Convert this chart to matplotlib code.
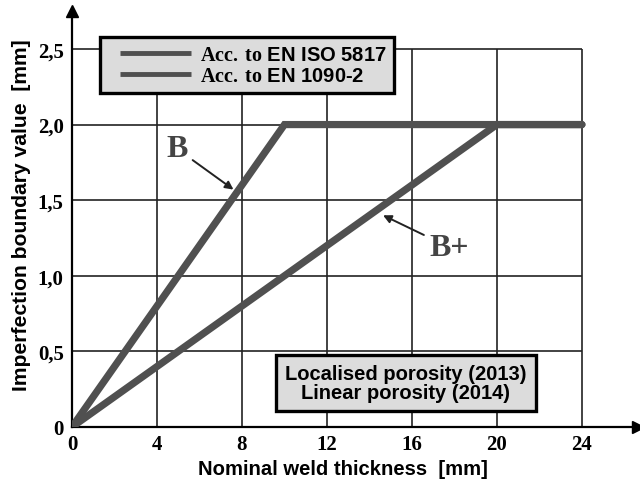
import matplotlib
matplotlib.use("Agg")
import matplotlib.pyplot as plt
from matplotlib.legend_handler import HandlerLine2D
from matplotlib.lines import Line2D

# ---- data ----
thickness_B = [0, 10, 24]
boundary_B = [0, 2.0, 2.0]
thickness_Bp = [0, 20, 24]
boundary_Bp = [0, 2.0, 2.0]
x_ticks = [0, 4, 8, 12, 16, 20, 24]
x_labels = ["0", "4", "8", "12", "16", "20", "24"]
y_ticks = [0, 0.5, 1.0, 1.5, 2.0, 2.5]
y_labels = ["0", "0,5", "1,0", "1,5", "2,0", "2,5"]
series_labels = [r"$\mathbf{Acc.\,to}$ EN ISO 5817", r"$\mathbf{Acc.\,to}$ EN 1090-2"]
box_text = "Localised porosity (2013)\nLinear porosity (2014)"

plt.rcParams["mathtext.fontset"] = "custom"
plt.rcParams["mathtext.bf"] = "Liberation Serif:bold"
plt.rcParams["mathtext.rm"] = "Liberation Serif"

W, H = 640, 481
fig = plt.figure(figsize=(W / 100, H / 100), dpi=100)
ax = fig.add_axes([72 / W, (H - 428) / H, (638 - 72) / W, (428 - 12) / H])
ax.set_xlim(0, 26.64)
ax.set_ylim(0, 2.751)

line_col = "#505050"
# grid
ax.vlines(x_ticks[1:], 0, y_ticks[-1], color="#222222", lw=1.2, zorder=1)
ax.hlines(y_ticks[1:], 0, x_ticks[-1], color="#222222", lw=1.2, zorder=1)

l1, = ax.plot(thickness_B, boundary_B, color=line_col, lw=5.2, solid_capstyle="round",
              solid_joinstyle="miter", zorder=3, label=series_labels[0])
l2, = ax.plot(thickness_Bp, boundary_Bp, color=line_col, lw=5.2, solid_capstyle="round",
              solid_joinstyle="miter", zorder=3, label=series_labels[1])

# spines / arrows
for s in ["top", "right"]:
    ax.spines[s].set_visible(False)
for s in ["left", "bottom"]:
    ax.spines[s].set_linewidth(1.6)
    ax.spines[s].set_color("black")
ax.plot(1, 0, ">", color="black", ms=8, transform=ax.transAxes, clip_on=False, zorder=5)
ax.plot(0, 1, "^", color="black", ms=8, transform=ax.transAxes, clip_on=False, zorder=5)

serif = "Liberation Serif"
sans = "Liberation Sans"
ax.set_xticks(x_ticks)
ax.set_xticklabels(x_labels, fontfamily=serif, fontweight="bold", fontsize=15)
ax.set_yticks(y_ticks)
ax.set_yticklabels(y_labels, fontfamily=serif, fontweight="bold", fontsize=15)
ax.tick_params(axis="both", length=0)
ax.tick_params(axis="x", pad=5)
ax.tick_params(axis="y", pad=6)

ax.set_xlabel("Nominal weld thickness  [mm]", fontfamily=sans, fontweight="bold",
              fontsize=14.6, va="center", ha="center")
ax.xaxis.set_label_coords((343 - 72) / 566, (428 - 470) / 416)
ax.set_ylabel("Imperfection boundary value  [mm]", fontfamily=sans, fontweight="bold",
              fontsize=15.2, va="center", ha="center", rotation=90)
ax.yaxis.set_label_coords((22 - 72) / 566, (428 - 215) / 416)

# legend
leg = ax.legend(handles=[l1, l2], loc="upper left",
                bbox_to_anchor=(100 / W, 1 - 38 / H), bbox_transform=fig.transFigure,
                borderaxespad=0, frameon=True, fancybox=False, framealpha=1,
                facecolor="#dcdcdc", edgecolor="black",
                prop={"family": sans, "weight": "bold", "size": 14.5},
                borderpad=0.4, handlelength=4.1, handletextpad=0.45, labelspacing=0.1,
                handler_map={Line2D: HandlerLine2D(xpad=0.6)})
leg.get_frame().set_linewidth(2.4)
for ln in leg.get_lines():
    ln.set_linewidth(3.5)
    ln.set_solid_capstyle("butt")
leg.set_zorder(6)

# bottom box
ax.text(15.72, 0.291, box_text, ha="center", va="center", multialignment="center",
        fontfamily=sans, fontweight="bold", fontsize=14.5, linespacing=1.05, zorder=6,
        bbox=dict(boxstyle="square,pad=0.45", fc="#dcdcdc", ec="black", lw=2.4))

# annotations
arrow = dict(arrowstyle="-|>", color="#222222", lw=1.4, mutation_scale=12,
             shrinkA=2, shrinkB=0)
ax.annotate("B", xy=(7.6, 1.57), xytext=(4.94, 1.84), ha="center", va="center",
            fontfamily=serif, fontweight="bold", fontsize=23, color="#444444",
            arrowprops=arrow, zorder=6)
ax.annotate("B+", xy=(14.64, 1.40), xytext=(17.74, 1.19), ha="center", va="center",
            fontfamily=serif, fontweight="bold", fontsize=23, color="#444444",
            arrowprops=arrow, zorder=6)

fig.savefig("out.png", dpi=100, facecolor="white")
